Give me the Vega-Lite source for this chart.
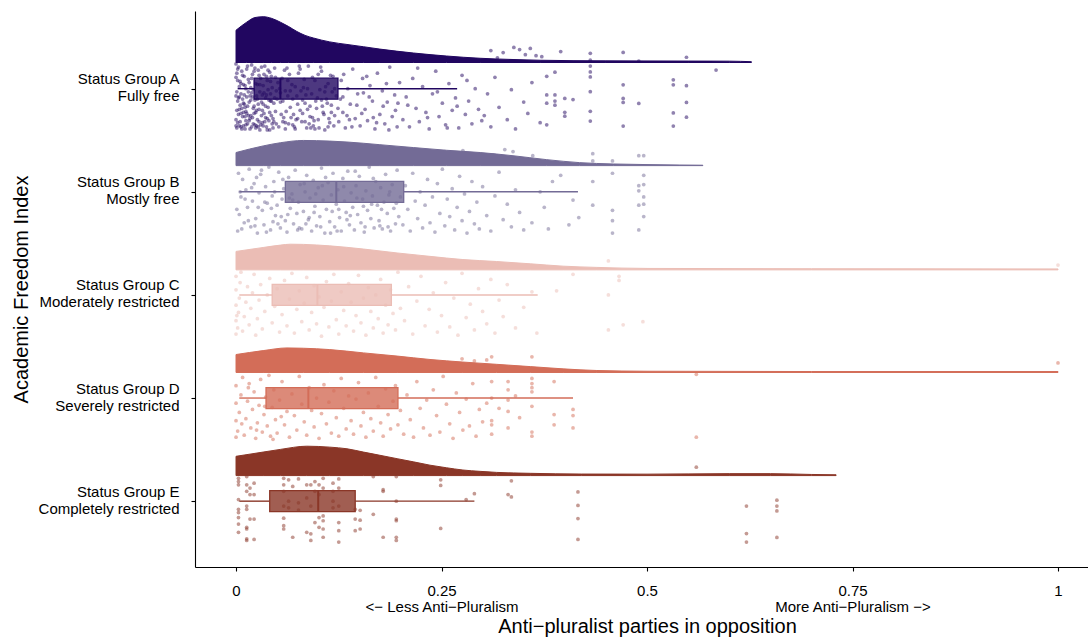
{
"$schema": "https://vega.github.io/schema/vega-lite/v6.json",
"width": 893, "height": 556,
"autosize": {"type": "none"},
"padding": {"left": 195, "top": 11, "right": 0, "bottom": 72},
"background": "white",
"config": {"view": {"stroke": null}, "font": "Liberation Sans",
 "axis": {"grid": false, "domainColor": "black", "domainWidth": 1.1, "tickColor": "black", "tickWidth": 1.1, "tickSize": 4, "labelColor": "black", "labelFont": "Liberation Sans", "labelFontSize": 15, "titleFont": "Liberation Sans", "titleFontSize": 20, "titleFontWeight": "normal", "titleColor": "black", "labelOverlap": false, "labelFlush": false}},
"datasets": {
"dens": [
{"g":"A","x":0,"top":5.567,"base":5.254},{"g":"A","x":0.013,"top":5.645,"base":5.254},{"g":"A","x":0.023,"top":5.69,"base":5.254},{"g":"A","x":0.033,"top":5.698,"base":5.254},{"g":"A","x":0.043,"top":5.683,"base":5.254},{"g":"A","x":0.054,"top":5.645,"base":5.254},{"g":"A","x":0.064,"top":5.603,"base":5.254},{"g":"A","x":0.074,"top":5.555,"base":5.254},{"g":"A","x":0.084,"top":5.517,"base":5.254},{"g":"A","x":0.094,"top":5.492,"base":5.254},{"g":"A","x":0.114,"top":5.454,"base":5.254},{"g":"A","x":0.135,"top":5.429,"base":5.254},{"g":"A","x":0.155,"top":5.407,"base":5.254},{"g":"A","x":0.175,"top":5.384,"base":5.254},{"g":"A","x":0.216,"top":5.346,"base":5.254},{"g":"A","x":0.256,"top":5.317,"base":5.254},{"g":"A","x":0.297,"top":5.295,"base":5.254},{"g":"A","x":0.337,"top":5.283,"base":5.254},{"g":"A","x":0.37,"top":5.276,"base":5.254},{"g":"A","x":0.45,"top":5.27,"base":5.254},{"g":"A","x":0.55,"top":5.268,"base":5.254},{"g":"A","x":0.6,"top":5.267,"base":5.254},{"g":"A","x":0.627,"top":5.262,"base":5.254},
{"g":"B","x":0,"top":4.381,"base":4.254},{"g":"B","x":0.033,"top":4.445,"base":4.254},{"g":"B","x":0.054,"top":4.476,"base":4.254},{"g":"B","x":0.082,"top":4.498,"base":4.254},{"g":"B","x":0.114,"top":4.492,"base":4.254},{"g":"B","x":0.135,"top":4.483,"base":4.254},{"g":"B","x":0.175,"top":4.457,"base":4.254},{"g":"B","x":0.216,"top":4.429,"base":4.254},{"g":"B","x":0.256,"top":4.403,"base":4.254},{"g":"B","x":0.297,"top":4.381,"base":4.254},{"g":"B","x":0.337,"top":4.35,"base":4.254},{"g":"B","x":0.378,"top":4.312,"base":4.254},{"g":"B","x":0.418,"top":4.283,"base":4.254},{"g":"B","x":0.459,"top":4.27,"base":4.254},{"g":"B","x":0.5,"top":4.264,"base":4.254},{"g":"B","x":0.54,"top":4.26,"base":4.254},{"g":"B","x":0.568,"top":4.258,"base":4.254},
{"g":"C","x":0,"top":3.422,"base":3.243},{"g":"C","x":0.033,"top":3.46,"base":3.243},{"g":"C","x":0.054,"top":3.483,"base":3.243},{"g":"C","x":0.066,"top":3.492,"base":3.243},{"g":"C","x":0.082,"top":3.49,"base":3.243},{"g":"C","x":0.114,"top":3.476,"base":3.243},{"g":"C","x":0.155,"top":3.445,"base":3.243},{"g":"C","x":0.196,"top":3.407,"base":3.243},{"g":"C","x":0.236,"top":3.374,"base":3.243},{"g":"C","x":0.276,"top":3.343,"base":3.243},{"g":"C","x":0.317,"top":3.324,"base":3.243},{"g":"C","x":0.358,"top":3.302,"base":3.243},{"g":"C","x":0.398,"top":3.279,"base":3.243},{"g":"C","x":0.439,"top":3.267,"base":3.243},{"g":"C","x":0.5,"top":3.257,"base":3.243},{"g":"C","x":0.7,"top":3.254,"base":3.243},{"g":"C","x":1.0,"top":3.252,"base":3.243},
{"g":"D","x":0,"top":2.422,"base":2.248},{"g":"D","x":0.033,"top":2.46,"base":2.248},{"g":"D","x":0.062,"top":2.486,"base":2.248},{"g":"D","x":0.082,"top":2.483,"base":2.248},{"g":"D","x":0.114,"top":2.47,"base":2.248},{"g":"D","x":0.155,"top":2.438,"base":2.248},{"g":"D","x":0.196,"top":2.407,"base":2.248},{"g":"D","x":0.236,"top":2.374,"base":2.248},{"g":"D","x":0.276,"top":2.349,"base":2.248},{"g":"D","x":0.317,"top":2.327,"base":2.248},{"g":"D","x":0.358,"top":2.305,"base":2.248},{"g":"D","x":0.398,"top":2.283,"base":2.248},{"g":"D","x":0.439,"top":2.267,"base":2.248},{"g":"D","x":0.5,"top":2.26,"base":2.248},{"g":"D","x":0.7,"top":2.257,"base":2.248},{"g":"D","x":1.0,"top":2.257,"base":2.248},
{"g":"E","x":0,"top":1.435,"base":1.248},{"g":"E","x":0.033,"top":1.476,"base":1.248},{"g":"E","x":0.054,"top":1.502,"base":1.248},{"g":"E","x":0.086,"top":1.533,"base":1.248},{"g":"E","x":0.114,"top":1.524,"base":1.248},{"g":"E","x":0.135,"top":1.508,"base":1.248},{"g":"E","x":0.155,"top":1.476,"base":1.248},{"g":"E","x":0.175,"top":1.445,"base":1.248},{"g":"E","x":0.196,"top":1.412,"base":1.248},{"g":"E","x":0.216,"top":1.381,"base":1.248},{"g":"E","x":0.236,"top":1.349,"base":1.248},{"g":"E","x":0.256,"top":1.324,"base":1.248},{"g":"E","x":0.276,"top":1.302,"base":1.248},{"g":"E","x":0.297,"top":1.289,"base":1.248},{"g":"E","x":0.317,"top":1.279,"base":1.248},{"g":"E","x":0.358,"top":1.27,"base":1.248},{"g":"E","x":0.42,"top":1.263,"base":1.248},{"g":"E","x":0.5,"top":1.262,"base":1.248},{"g":"E","x":0.6,"top":1.267,"base":1.248},{"g":"E","x":0.65,"top":1.267,"base":1.248},{"g":"E","x":0.7,"top":1.259,"base":1.248},{"g":"E","x":0.73,"top":1.256,"base":1.248}
],
"box": [
{"g":"A","gy":5,"lo":0.002,"q1":0.022,"med":0.054,"q3":0.124,"hi":0.269},
{"g":"B","gy":4,"lo":0.004,"q1":0.06,"med":0.122,"q3":0.204,"hi":0.416},
{"g":"C","gy":3,"lo":0.004,"q1":0.044,"med":0.099,"q3":0.189,"hi":0.367},
{"g":"D","gy":2,"lo":0.004,"q1":0.0365,"med":0.088,"q3":0.197,"hi":0.41},
{"g":"E","gy":1,"lo":0.004,"q1":0.041,"med":0.1,"q3":0.145,"hi":0.29}
],
"pts": [
{"g":"A","x":0.001,"y":4.62},{"g":"A","x":0.003,"y":4.75},{"g":"A","x":0.002,"y":4.88},{"g":"A","x":0.004,"y":5.02},{"g":"A","x":0.001,"y":5.15},{"g":"A","x":0.005,"y":4.68},{"g":"A","x":0.006,"y":4.95},{"g":"A","x":0.003,"y":5.21},{"g":"A","x":0.007,"y":4.81},{"g":"A","x":0.002,"y":5.08},
{"g":"A","x":0.009,"y":4.64},{"g":"A","x":0.008,"y":4.9},{"g":"A","x":0.01,"y":5.12},{"g":"A","x":0.011,"y":4.73},{"g":"A","x":0.012,"y":5.0},{"g":"A","x":0.01,"y":4.85},{"g":"A","x":0.013,"y":5.19},{"g":"A","x":0.014,"y":4.66},{"g":"A","x":0.015,"y":4.97},{"g":"A","x":0.012,"y":4.78},
{"g":"A","x":0.016,"y":5.06},{"g":"A","x":0.017,"y":4.61},{"g":"A","x":0.018,"y":4.89},{"g":"A","x":0.019,"y":5.23},{"g":"A","x":0.02,"y":4.72},{"g":"A","x":0.021,"y":4.99},{"g":"A","x":0.02,"y":5.14},{"g":"A","x":0.022,"y":4.83},{"g":"A","x":0.023,"y":4.65},{"g":"A","x":0.024,"y":5.05},
{"g":"A","x":0.025,"y":4.93},{"g":"A","x":0.026,"y":4.7},{"g":"A","x":0.027,"y":5.18},{"g":"A","x":0.028,"y":4.8},{"g":"A","x":0.029,"y":4.6},{"g":"A","x":0.03,"y":5.1},{"g":"A","x":0.031,"y":4.87},{"g":"A","x":0.032,"y":4.67},{"g":"A","x":0.033,"y":5.03},{"g":"A","x":0.034,"y":4.76},
{"g":"A","x":0.035,"y":5.22},{"g":"A","x":0.036,"y":4.91},{"g":"A","x":0.037,"y":4.63},{"g":"A","x":0.038,"y":5.08},{"g":"A","x":0.039,"y":4.82},{"g":"A","x":0.04,"y":4.69},{"g":"A","x":0.041,"y":5.16},{"g":"A","x":0.042,"y":4.95},{"g":"A","x":0.043,"y":4.74},{"g":"A","x":0.044,"y":5.01},
{"g":"A","x":0.045,"y":4.62},{"g":"A","x":0.046,"y":4.86},{"g":"A","x":0.047,"y":5.2},{"g":"A","x":0.048,"y":4.78},{"g":"A","x":0.049,"y":4.98},{"g":"A","x":0.0,"y":4.7},{"g":"A","x":0.0,"y":4.93},{"g":"A","x":0.0,"y":5.11},{"g":"A","x":0.0,"y":4.64},{"g":"A","x":0.0,"y":5.24},
{"g":"A","x":0.005,"y":4.84},{"g":"A","x":0.007,"y":5.17},{"g":"A","x":0.009,"y":4.77},{"g":"A","x":0.011,"y":4.61},{"g":"A","x":0.013,"y":4.92},{"g":"A","x":0.015,"y":5.09},{"g":"A","x":0.017,"y":4.71},{"g":"A","x":0.019,"y":4.96},{"g":"A","x":0.021,"y":4.66},{"g":"A","x":0.023,"y":5.2},
{"g":"A","x":0.025,"y":4.79},{"g":"A","x":0.027,"y":4.63},{"g":"A","x":0.029,"y":5.04},{"g":"A","x":0.031,"y":4.74},{"g":"A","x":0.033,"y":4.85},{"g":"A","x":0.035,"y":4.68},{"g":"A","x":0.037,"y":5.12},{"g":"A","x":0.039,"y":4.99},{"g":"A","x":0.041,"y":4.6},{"g":"A","x":0.043,"y":4.88},
{"g":"A","x":0.002,"y":4.67},{"g":"A","x":0.004,"y":4.8},{"g":"A","x":0.006,"y":5.05},{"g":"A","x":0.008,"y":4.73},{"g":"A","x":0.01,"y":4.94},{"g":"A","x":0.014,"y":4.83},{"g":"A","x":0.018,"y":5.01},{"g":"A","x":0.022,"y":4.76},{"g":"A","x":0.026,"y":4.9},{"g":"A","x":0.03,"y":4.65},
{"g":"A","x":0.034,"y":4.96},{"g":"A","x":0.038,"y":4.71},{"g":"A","x":0.042,"y":5.07},{"g":"A","x":0.046,"y":4.68},{"g":"A","x":0.05,"y":4.9},
{"g":"A","x":0.001,"y":4.97},{"g":"A","x":0.004,"y":4.64},{"g":"A","x":0.006,"y":4.76},{"g":"A","x":0.009,"y":5.04},{"g":"A","x":0.012,"y":4.69},{"g":"A","x":0.016,"y":4.87},{"g":"A","x":0.019,"y":4.63},{"g":"A","x":0.024,"y":4.77},{"g":"A","x":0.028,"y":5.13},{"g":"A","x":0.032,"y":4.94},
{"g":"A","x":0.036,"y":4.72},{"g":"A","x":0.04,"y":4.89},{"g":"A","x":0.044,"y":4.66},{"g":"A","x":0.048,"y":5.11},{"g":"A","x":0.003,"y":4.91},{"g":"A","x":0.007,"y":4.61},{"g":"A","x":0.011,"y":4.82},{"g":"A","x":0.015,"y":4.74},{"g":"A","x":0.02,"y":4.92},{"g":"A","x":0.025,"y":4.64},
{"g":"A","x":0.001,"y":4.79},{"g":"A","x":0.002,"y":5.19},{"g":"A","x":0.004,"y":4.92},{"g":"A","x":0.005,"y":5.07},{"g":"A","x":0.006,"y":4.63},{"g":"A","x":0.008,"y":5.13},{"g":"A","x":0.009,"y":4.86},{"g":"A","x":0.011,"y":5.03},{"g":"A","x":0.012,"y":4.65},{"g":"A","x":0.013,"y":4.76},
{"g":"A","x":0.014,"y":5.22},{"g":"A","x":0.016,"y":4.69},{"g":"A","x":0.017,"y":4.93},{"g":"A","x":0.018,"y":4.74},{"g":"A","x":0.019,"y":5.1},{"g":"A","x":0.021,"y":4.81},{"g":"A","x":0.022,"y":5.17},{"g":"A","x":0.023,"y":4.89},{"g":"A","x":0.024,"y":4.62},{"g":"A","x":0.026,"y":5.04},
{"g":"A","x":0.027,"y":4.85},{"g":"A","x":0.028,"y":4.68},{"g":"A","x":0.029,"y":4.97},{"g":"A","x":0.031,"y":5.21},{"g":"A","x":0.032,"y":4.79},{"g":"A","x":0.033,"y":4.64},{"g":"A","x":0.034,"y":5.14},{"g":"A","x":0.036,"y":4.83},{"g":"A","x":0.037,"y":4.94},{"g":"A","x":0.038,"y":4.6},
{"g":"A","x":0.039,"y":5.18},{"g":"A","x":0.041,"y":4.77},{"g":"A","x":0.042,"y":4.88},{"g":"A","x":0.043,"y":5.12},{"g":"A","x":0.045,"y":4.71},{"g":"A","x":0.047,"y":4.91},{"g":"A","x":0.049,"y":4.66},{"g":"A","x":0.051,"y":5.06},{"g":"A","x":0.054,"y":4.96},{"g":"A","x":0.057,"y":4.88},
{"g":"A","x":0.06,"y":4.67},{"g":"A","x":0.063,"y":5.08},{"g":"A","x":0.066,"y":4.98},{"g":"A","x":0.069,"y":4.65},{"g":"A","x":0.072,"y":5.02},{"g":"A","x":0.075,"y":4.71},{"g":"A","x":0.078,"y":5.19},{"g":"A","x":0.081,"y":4.89},{"g":"A","x":0.084,"y":4.68},{"g":"A","x":0.087,"y":5.0},
{"g":"A","x":0.09,"y":4.83},{"g":"A","x":0.093,"y":4.72},{"g":"A","x":0.096,"y":4.61},{"g":"A","x":0.1,"y":5.14},{"g":"A","x":0.104,"y":4.89},{"g":"A","x":0.108,"y":4.97},{"g":"A","x":0.112,"y":4.63},{"g":"A","x":0.116,"y":4.77},{"g":"A","x":0.12,"y":5.0},{"g":"A","x":0.13,"y":4.92},
{"g":"A","x":0.052,"y":4.63},{"g":"A","x":0.054,"y":4.87},{"g":"A","x":0.056,"y":5.1},{"g":"A","x":0.058,"y":4.72},{"g":"A","x":0.06,"y":4.98},{"g":"A","x":0.062,"y":5.2},{"g":"A","x":0.064,"y":4.66},{"g":"A","x":0.066,"y":4.82},{"g":"A","x":0.068,"y":5.04},{"g":"A","x":0.07,"y":4.75},
{"g":"A","x":0.072,"y":4.61},{"g":"A","x":0.074,"y":4.93},{"g":"A","x":0.076,"y":5.15},{"g":"A","x":0.078,"y":4.79},{"g":"A","x":0.08,"y":4.68},{"g":"A","x":0.082,"y":5.01},{"g":"A","x":0.084,"y":4.86},{"g":"A","x":0.086,"y":4.62},{"g":"A","x":0.088,"y":5.22},{"g":"A","x":0.09,"y":4.73},
{"g":"A","x":0.092,"y":4.95},{"g":"A","x":0.094,"y":4.64},{"g":"A","x":0.096,"y":5.08},{"g":"A","x":0.098,"y":4.81},{"g":"A","x":0.1,"y":4.7},{"g":"A","x":0.102,"y":4.99},{"g":"A","x":0.104,"y":5.17},{"g":"A","x":0.106,"y":4.77},{"g":"A","x":0.108,"y":4.6},{"g":"A","x":0.11,"y":4.9},
{"g":"A","x":0.112,"y":5.05},{"g":"A","x":0.114,"y":4.67},{"g":"A","x":0.116,"y":4.84},{"g":"A","x":0.118,"y":5.12},{"g":"A","x":0.12,"y":4.74},{"g":"A","x":0.053,"y":5.0},{"g":"A","x":0.057,"y":4.68},{"g":"A","x":0.061,"y":4.78},{"g":"A","x":0.065,"y":5.14},{"g":"A","x":0.069,"y":4.9},
{"g":"A","x":0.073,"y":4.7},{"g":"A","x":0.077,"y":5.22},{"g":"A","x":0.081,"y":4.76},{"g":"A","x":0.085,"y":4.94},{"g":"A","x":0.089,"y":4.66},{"g":"A","x":0.093,"y":5.11},{"g":"A","x":0.097,"y":4.88},{"g":"A","x":0.101,"y":4.62},{"g":"A","x":0.105,"y":4.83},{"g":"A","x":0.109,"y":5.02},
{"g":"A","x":0.113,"y":4.71},{"g":"A","x":0.117,"y":4.97},{"g":"A","x":0.055,"y":4.75},{"g":"A","x":0.063,"y":4.93},{"g":"A","x":0.071,"y":4.63},{"g":"A","x":0.079,"y":4.98},{"g":"A","x":0.087,"y":4.8},{"g":"A","x":0.095,"y":4.69},{"g":"A","x":0.103,"y":5.21},{"g":"A","x":0.111,"y":4.86},
{"g":"A","x":0.119,"y":4.64},{"g":"A","x":0.059,"y":5.18},{"g":"A","x":0.067,"y":4.72},{"g":"A","x":0.075,"y":4.85},{"g":"A","x":0.083,"y":5.09},{"g":"A","x":0.091,"y":4.62},{"g":"A","x":0.099,"y":4.91},{"g":"A","x":0.107,"y":4.75},{"g":"A","x":0.115,"y":5.13},{"g":"A","x":0.06,"y":4.61},
{"g":"A","x":0.122,"y":4.93},{"g":"A","x":0.125,"y":4.68},{"g":"A","x":0.128,"y":5.08},{"g":"A","x":0.13,"y":4.77},{"g":"A","x":0.133,"y":4.62},{"g":"A","x":0.136,"y":5.0},{"g":"A","x":0.139,"y":4.85},{"g":"A","x":0.142,"y":5.19},{"g":"A","x":0.145,"y":4.71},{"g":"A","x":0.148,"y":4.95},
{"g":"A","x":0.151,"y":4.64},{"g":"A","x":0.154,"y":5.1},{"g":"A","x":0.157,"y":4.8},{"g":"A","x":0.16,"y":4.69},{"g":"A","x":0.163,"y":5.03},{"g":"A","x":0.166,"y":4.88},{"g":"A","x":0.169,"y":4.61},{"g":"A","x":0.172,"y":5.15},{"g":"A","x":0.175,"y":4.75},{"g":"A","x":0.178,"y":4.98},
{"g":"A","x":0.181,"y":4.66},{"g":"A","x":0.184,"y":4.87},{"g":"A","x":0.187,"y":5.21},{"g":"A","x":0.19,"y":4.73},{"g":"A","x":0.193,"y":4.94},{"g":"A","x":0.196,"y":4.63},{"g":"A","x":0.199,"y":5.06},{"g":"A","x":0.124,"y":4.81},{"g":"A","x":0.131,"y":5.14},{"g":"A","x":0.138,"y":4.7},
{"g":"A","x":0.147,"y":4.84},{"g":"A","x":0.153,"y":4.76},{"g":"A","x":0.162,"y":4.92},{"g":"A","x":0.171,"y":4.67},{"g":"A","x":0.179,"y":4.83},{"g":"A","x":0.186,"y":4.6},{"g":"A","x":0.194,"y":4.79},{"g":"A","x":0.127,"y":4.9},{"g":"A","x":0.141,"y":4.63},{"g":"A","x":0.155,"y":4.96},
{"g":"A","x":0.167,"y":4.72},{"g":"A","x":0.183,"y":5.05},{"g":"A","x":0.197,"y":4.86},{"g":"A","x":0.135,"y":4.74},{"g":"A","x":0.159,"y":5.12},
{"g":"A","x":0.203,"y":4.7},{"g":"A","x":0.207,"y":4.92},{"g":"A","x":0.211,"y":4.63},{"g":"A","x":0.215,"y":5.1},{"g":"A","x":0.219,"y":4.81},{"g":"A","x":0.223,"y":4.68},{"g":"A","x":0.227,"y":5.02},{"g":"A","x":0.231,"y":4.77},{"g":"A","x":0.235,"y":4.61},{"g":"A","x":0.239,"y":4.95},
{"g":"A","x":0.243,"y":5.17},{"g":"A","x":0.247,"y":4.73},{"g":"A","x":0.251,"y":4.86},{"g":"A","x":0.255,"y":4.65},{"g":"A","x":0.259,"y":5.05},{"g":"A","x":0.263,"y":4.79},{"g":"A","x":0.267,"y":4.91},{"g":"A","x":0.271,"y":4.62},{"g":"A","x":0.275,"y":5.13},{"g":"A","x":0.279,"y":4.75},
{"g":"A","x":0.283,"y":4.88},{"g":"A","x":0.287,"y":4.66},{"g":"A","x":0.291,"y":5.0},{"g":"A","x":0.295,"y":4.8},{"g":"A","x":0.299,"y":4.69},{"g":"A","x":0.209,"y":4.84},{"g":"A","x":0.221,"y":5.2},{"g":"A","x":0.233,"y":4.72},{"g":"A","x":0.245,"y":4.97},{"g":"A","x":0.257,"y":4.62},
{"g":"A","x":0.269,"y":4.83},{"g":"A","x":0.281,"y":5.08},
{"g":"A","x":0.302,"y":4.74},{"g":"A","x":0.306,"y":4.95},{"g":"A","x":0.31,"y":4.63},{"g":"A","x":0.315,"y":5.11},{"g":"A","x":0.32,"y":4.82},{"g":"A","x":0.325,"y":5.35},{"g":"A","x":0.33,"y":4.7},{"g":"A","x":0.335,"y":4.99},{"g":"A","x":0.34,"y":4.61},{"g":"A","x":0.345,"y":5.38},
{"g":"A","x":0.35,"y":4.87},{"g":"A","x":0.355,"y":4.76},{"g":"A","x":0.36,"y":5.06},{"g":"A","x":0.365,"y":5.32},{"g":"A","x":0.37,"y":4.67},{"g":"A","x":0.378,"y":5.12},{"g":"A","x":0.378,"y":4.94},{"g":"A","x":0.378,"y":4.86},{"g":"A","x":0.378,"y":4.65},{"g":"A","x":0.388,"y":5.16},
{"g":"A","x":0.388,"y":4.94},{"g":"A","x":0.388,"y":4.88},{"g":"A","x":0.388,"y":4.84},{"g":"A","x":0.395,"y":5.36},{"g":"A","x":0.338,"y":5.4},{"g":"A","x":0.352,"y":5.33},{"g":"A","x":0.358,"y":5.39},{"g":"A","x":0.372,"y":5.31},{"g":"A","x":0.31,"y":5.37},{"g":"A","x":0.318,"y":5.3},
{"g":"A","x":0.4,"y":4.905},{"g":"A","x":0.4,"y":4.771},{"g":"A","x":0.4,"y":4.733},{"g":"A","x":0.41,"y":4.895},{"g":"A","x":0.431,"y":5.343},{"g":"A","x":0.431,"y":5.276},{"g":"A","x":0.431,"y":5.219},{"g":"A","x":0.431,"y":5.162},{"g":"A","x":0.431,"y":5.114},{"g":"A","x":0.431,"y":4.971},
{"g":"A","x":0.431,"y":4.781},{"g":"A","x":0.431,"y":4.686},{"g":"A","x":0.471,"y":5.352},{"g":"A","x":0.471,"y":5.038},{"g":"A","x":0.471,"y":4.905},{"g":"A","x":0.471,"y":4.867},{"g":"A","x":0.471,"y":4.638},{"g":"A","x":0.49,"y":5.267},{"g":"A","x":0.49,"y":4.857},{"g":"A","x":0.532,"y":5.086},
{"g":"A","x":0.532,"y":5.038},{"g":"A","x":0.532,"y":4.765},{"g":"A","x":0.532,"y":4.638},{"g":"A","x":0.548,"y":5.305},{"g":"A","x":0.548,"y":5.029},{"g":"A","x":0.548,"y":4.867},{"g":"A","x":0.548,"y":4.724},{"g":"A","x":0.584,"y":5.181},
{"g":"B","x":0.002,"y":3.62},{"g":"B","x":0.004,"y":3.78},{"g":"B","x":0.006,"y":3.95},{"g":"B","x":0.008,"y":4.12},{"g":"B","x":0.01,"y":3.7},{"g":"B","x":0.012,"y":4.02},{"g":"B","x":0.014,"y":3.85},{"g":"B","x":0.016,"y":4.22},{"g":"B","x":0.018,"y":3.66},{"g":"B","x":0.02,"y":3.91},
{"g":"B","x":0.022,"y":4.08},{"g":"B","x":0.024,"y":3.74},{"g":"B","x":0.026,"y":3.6},{"g":"B","x":0.028,"y":3.99},{"g":"B","x":0.03,"y":4.17},{"g":"B","x":0.032,"y":3.82},{"g":"B","x":0.034,"y":3.68},{"g":"B","x":0.036,"y":4.05},{"g":"B","x":0.038,"y":3.89},{"g":"B","x":0.04,"y":4.24},
{"g":"B","x":0.042,"y":3.63},{"g":"B","x":0.044,"y":3.96},{"g":"B","x":0.046,"y":4.1},{"g":"B","x":0.048,"y":3.77},{"g":"B","x":0.05,"y":3.87},{"g":"B","x":0.052,"y":4.19},{"g":"B","x":0.054,"y":3.65},{"g":"B","x":0.056,"y":3.93},{"g":"B","x":0.058,"y":4.03},{"g":"B","x":0.06,"y":3.72},
{"g":"B","x":0.062,"y":3.61},{"g":"B","x":0.064,"y":4.14},{"g":"B","x":0.066,"y":3.84},{"g":"B","x":0.068,"y":3.98},{"g":"B","x":0.07,"y":3.69},{"g":"B","x":0.072,"y":4.21},{"g":"B","x":0.074,"y":3.79},{"g":"B","x":0.076,"y":3.9},{"g":"B","x":0.078,"y":4.07},{"g":"B","x":0.08,"y":3.64},
{"g":"B","x":0.082,"y":3.81},{"g":"B","x":0.084,"y":4.0},{"g":"B","x":0.086,"y":4.16},{"g":"B","x":0.088,"y":3.73},{"g":"B","x":0.09,"y":3.94},{"g":"B","x":0.092,"y":3.62},{"g":"B","x":0.094,"y":4.11},{"g":"B","x":0.096,"y":3.86},{"g":"B","x":0.098,"y":3.67},{"g":"B","x":0.1,"y":4.04},
{"g":"B","x":0.102,"y":3.76},{"g":"B","x":0.104,"y":4.23},{"g":"B","x":0.106,"y":3.92},{"g":"B","x":0.108,"y":3.6},{"g":"B","x":0.11,"y":3.83},{"g":"B","x":0.112,"y":4.09},{"g":"B","x":0.114,"y":3.71},{"g":"B","x":0.116,"y":3.97},{"g":"B","x":0.118,"y":4.18},{"g":"B","x":0.12,"y":3.66},
{"g":"B","x":0.122,"y":3.88},{"g":"B","x":0.124,"y":4.02},{"g":"B","x":0.126,"y":3.75},{"g":"B","x":0.128,"y":3.62},{"g":"B","x":0.13,"y":4.13},{"g":"B","x":0.132,"y":3.91},{"g":"B","x":0.134,"y":3.8},{"g":"B","x":0.136,"y":4.2},{"g":"B","x":0.138,"y":3.68},{"g":"B","x":0.14,"y":3.99},
{"g":"B","x":0.142,"y":3.85},{"g":"B","x":0.144,"y":3.63},{"g":"B","x":0.146,"y":4.06},{"g":"B","x":0.148,"y":3.78},{"g":"B","x":0.15,"y":4.15},{"g":"B","x":0.152,"y":3.7},{"g":"B","x":0.154,"y":3.93},{"g":"B","x":0.156,"y":3.61},{"g":"B","x":0.158,"y":4.01},{"g":"B","x":0.16,"y":3.82},
{"g":"B","x":0.162,"y":4.24},{"g":"B","x":0.164,"y":3.74},{"g":"B","x":0.166,"y":3.96},{"g":"B","x":0.168,"y":3.65},{"g":"B","x":0.17,"y":4.1},{"g":"B","x":0.172,"y":3.87},{"g":"B","x":0.174,"y":3.72},{"g":"B","x":0.176,"y":4.04},{"g":"B","x":0.178,"y":3.64},{"g":"B","x":0.18,"y":3.9},
{"g":"B","x":0.182,"y":4.17},{"g":"B","x":0.184,"y":3.79},{"g":"B","x":0.186,"y":3.97},{"g":"B","x":0.188,"y":3.62},{"g":"B","x":0.19,"y":4.07},{"g":"B","x":0.192,"y":3.84},{"g":"B","x":0.194,"y":3.69},{"g":"B","x":0.196,"y":4.21},{"g":"B","x":0.198,"y":3.76},{"g":"B","x":0.2,"y":3.95},
{"g":"B","x":0.015,"y":3.72},{"g":"B","x":0.035,"y":3.9},{"g":"B","x":0.055,"y":3.76},{"g":"B","x":0.075,"y":3.63},{"g":"B","x":0.095,"y":3.8},{"g":"B","x":0.115,"y":3.6},{"g":"B","x":0.135,"y":3.73},{"g":"B","x":0.155,"y":3.86},{"g":"B","x":0.175,"y":3.67},{"g":"B","x":0.195,"y":3.89},
{"g":"B","x":0.005,"y":4.0},{"g":"B","x":0.025,"y":4.14},{"g":"B","x":0.045,"y":3.71},{"g":"B","x":0.065,"y":3.94},{"g":"B","x":0.085,"y":3.69},{"g":"B","x":0.105,"y":4.06},{"g":"B","x":0.125,"y":3.83},{"g":"B","x":0.145,"y":4.2},{"g":"B","x":0.165,"y":3.88},{"g":"B","x":0.185,"y":3.66},
{"g":"B","x":0.001,"y":3.83},{"g":"B","x":0.003,"y":4.18},{"g":"B","x":0.007,"y":3.64},{"g":"B","x":0.011,"y":3.93},{"g":"B","x":0.019,"y":4.04},{"g":"B","x":0.023,"y":3.67},{"g":"B","x":0.027,"y":3.85},{"g":"B","x":0.031,"y":4.21},{"g":"B","x":0.037,"y":3.61},{"g":"B","x":0.043,"y":3.84},
{"g":"B","x":0.047,"y":4.0},{"g":"B","x":0.051,"y":3.69},{"g":"B","x":0.057,"y":4.12},{"g":"B","x":0.063,"y":3.78},{"g":"B","x":0.069,"y":3.92},{"g":"B","x":0.077,"y":3.65},{"g":"B","x":0.083,"y":4.08},{"g":"B","x":0.089,"y":3.75},{"g":"B","x":0.097,"y":3.98},{"g":"B","x":0.103,"y":3.66},
{"g":"B","x":0.109,"y":4.14},{"g":"B","x":0.117,"y":3.81},{"g":"B","x":0.123,"y":3.62},{"g":"B","x":0.131,"y":4.05},{"g":"B","x":0.139,"y":3.77},{"g":"B","x":0.147,"y":3.94},{"g":"B","x":0.157,"y":3.66},{"g":"B","x":0.167,"y":4.13},{"g":"B","x":0.177,"y":3.83},{"g":"B","x":0.187,"y":4.0},
{"g":"B","x":0.203,"y":3.68},{"g":"B","x":0.206,"y":4.06},{"g":"B","x":0.209,"y":3.83},{"g":"B","x":0.212,"y":3.62},{"g":"B","x":0.215,"y":4.18},{"g":"B","x":0.218,"y":3.91},{"g":"B","x":0.221,"y":3.74},{"g":"B","x":0.224,"y":4.0},{"g":"B","x":0.227,"y":3.65},{"g":"B","x":0.23,"y":3.87},
{"g":"B","x":0.233,"y":4.12},{"g":"B","x":0.236,"y":3.7},{"g":"B","x":0.239,"y":3.95},{"g":"B","x":0.242,"y":3.61},{"g":"B","x":0.245,"y":4.08},{"g":"B","x":0.248,"y":3.79},{"g":"B","x":0.251,"y":4.22},{"g":"B","x":0.254,"y":3.67},{"g":"B","x":0.257,"y":3.93},{"g":"B","x":0.26,"y":3.76},
{"g":"B","x":0.263,"y":4.03},{"g":"B","x":0.266,"y":3.63},{"g":"B","x":0.269,"y":3.85},{"g":"B","x":0.272,"y":4.15},{"g":"B","x":0.275,"y":3.72},{"g":"B","x":0.278,"y":3.98},{"g":"B","x":0.281,"y":3.6},{"g":"B","x":0.284,"y":3.81},{"g":"B","x":0.287,"y":4.1},{"g":"B","x":0.29,"y":3.69},
{"g":"B","x":0.293,"y":3.9},{"g":"B","x":0.296,"y":3.64},{"g":"B","x":0.3,"y":4.05},{"g":"B","x":0.305,"y":3.77},{"g":"B","x":0.31,"y":3.62},{"g":"B","x":0.315,"y":3.96},{"g":"B","x":0.32,"y":4.19},{"g":"B","x":0.325,"y":3.73},{"g":"B","x":0.33,"y":3.88},{"g":"B","x":0.335,"y":3.66},
{"g":"B","x":0.34,"y":4.02},{"g":"B","x":0.345,"y":3.8},{"g":"B","x":0.35,"y":3.63},{"g":"B","x":0.254,"y":4.39},{"g":"B","x":0.276,"y":4.4},{"g":"B","x":0.293,"y":4.36},{"g":"B","x":0.313,"y":4.355},{"g":"B","x":0.327,"y":4.41},{"g":"B","x":0.337,"y":4.39},{"g":"B","x":0.361,"y":4.35},
{"g":"B","x":0.36,"y":3.7},{"g":"B","x":0.37,"y":4.0},{"g":"B","x":0.375,"y":3.85},{"g":"B","x":0.38,"y":3.64},{"g":"B","x":0.385,"y":4.1},{"g":"B","x":0.395,"y":4.16},{"g":"B","x":0.417,"y":3.75},{"g":"B","x":0.434,"y":4.37},{"g":"B","x":0.434,"y":4.3},{"g":"B","x":0.434,"y":4.1},
{"g":"B","x":0.434,"y":3.87},{"g":"B","x":0.458,"y":4.3},{"g":"B","x":0.458,"y":4.18},{"g":"B","x":0.458,"y":3.82},{"g":"B","x":0.458,"y":3.72},{"g":"B","x":0.458,"y":3.6},{"g":"B","x":0.49,"y":4.35},{"g":"B","x":0.49,"y":4.06},{"g":"B","x":0.49,"y":4.01},{"g":"B","x":0.49,"y":3.87},
{"g":"B","x":0.49,"y":3.63},{"g":"B","x":0.496,"y":4.35},{"g":"B","x":0.496,"y":4.16},{"g":"B","x":0.496,"y":4.07},{"g":"B","x":0.496,"y":3.95},{"g":"B","x":0.496,"y":3.88},{"g":"B","x":0.496,"y":3.76},{"g":"B","x":0.405,"y":3.68},{"g":"B","x":0.41,"y":3.92},
{"g":"C","x":0.0,"y":2.62},{"g":"C","x":0.0,"y":2.75},{"g":"C","x":0.0,"y":2.9},{"g":"C","x":0.0,"y":3.05},{"g":"C","x":0.0,"y":3.18},{"g":"C","x":0.002,"y":2.68},{"g":"C","x":0.003,"y":2.83},{"g":"C","x":0.004,"y":2.97},{"g":"C","x":0.005,"y":3.12},{"g":"C","x":0.006,"y":3.22},
{"g":"C","x":0.008,"y":2.65},{"g":"C","x":0.01,"y":2.79},{"g":"C","x":0.012,"y":2.93},{"g":"C","x":0.014,"y":3.08},{"g":"C","x":0.016,"y":2.71},{"g":"C","x":0.018,"y":2.87},{"g":"C","x":0.02,"y":3.02},{"g":"C","x":0.022,"y":3.2},{"g":"C","x":0.024,"y":2.61},{"g":"C","x":0.026,"y":2.77},
{"g":"C","x":0.028,"y":2.95},{"g":"C","x":0.03,"y":3.1},{"g":"C","x":0.032,"y":2.67},{"g":"C","x":0.035,"y":2.84},{"g":"C","x":0.038,"y":3.0},{"g":"C","x":0.041,"y":3.16},{"g":"C","x":0.044,"y":2.73},{"g":"C","x":0.047,"y":2.89},{"g":"C","x":0.05,"y":3.06},{"g":"C","x":0.001,"y":2.8},
{"g":"C","x":0.053,"y":2.64},{"g":"C","x":0.056,"y":2.81},{"g":"C","x":0.059,"y":3.14},{"g":"C","x":0.062,"y":2.7},{"g":"C","x":0.065,"y":2.96},{"g":"C","x":0.068,"y":3.21},{"g":"C","x":0.071,"y":2.63},{"g":"C","x":0.074,"y":2.86},{"g":"C","x":0.077,"y":3.04},{"g":"C","x":0.08,"y":2.74},
{"g":"C","x":0.083,"y":2.92},{"g":"C","x":0.086,"y":3.17},{"g":"C","x":0.089,"y":2.66},{"g":"C","x":0.092,"y":2.83},{"g":"C","x":0.095,"y":3.09},{"g":"C","x":0.098,"y":2.72},{"g":"C","x":0.101,"y":2.98},{"g":"C","x":0.104,"y":2.6},{"g":"C","x":0.107,"y":2.88},{"g":"C","x":0.11,"y":3.13},
{"g":"C","x":0.113,"y":2.69},{"g":"C","x":0.116,"y":2.94},{"g":"C","x":0.119,"y":3.2},{"g":"C","x":0.122,"y":2.76},{"g":"C","x":0.125,"y":2.62},{"g":"C","x":0.128,"y":3.03},{"g":"C","x":0.131,"y":2.85},{"g":"C","x":0.134,"y":2.7},{"g":"C","x":0.137,"y":3.11},{"g":"C","x":0.14,"y":2.93},
{"g":"C","x":0.143,"y":2.65},{"g":"C","x":0.146,"y":2.8},{"g":"C","x":0.149,"y":3.19},{"g":"C","x":0.152,"y":2.73},{"g":"C","x":0.155,"y":2.97},{"g":"C","x":0.158,"y":2.61},{"g":"C","x":0.161,"y":3.07},{"g":"C","x":0.164,"y":2.84},{"g":"C","x":0.167,"y":2.68},{"g":"C","x":0.17,"y":3.0},
{"g":"C","x":0.173,"y":2.77},{"g":"C","x":0.176,"y":3.15},{"g":"C","x":0.179,"y":2.63},{"g":"C","x":0.182,"y":2.9},{"g":"C","x":0.185,"y":2.71},{"g":"C","x":0.188,"y":3.05},{"g":"C","x":0.191,"y":2.82},{"g":"C","x":0.194,"y":2.66},{"g":"C","x":0.197,"y":3.22},{"g":"C","x":0.2,"y":2.87},
{"g":"C","x":0.205,"y":2.75},{"g":"C","x":0.21,"y":3.08},{"g":"C","x":0.215,"y":2.62},{"g":"C","x":0.22,"y":2.94},{"g":"C","x":0.225,"y":3.18},{"g":"C","x":0.23,"y":2.7},{"g":"C","x":0.235,"y":2.86},{"g":"C","x":0.24,"y":3.02},{"g":"C","x":0.245,"y":2.64},{"g":"C","x":0.25,"y":2.8},
{"g":"C","x":0.255,"y":3.12},{"g":"C","x":0.26,"y":2.69},{"g":"C","x":0.265,"y":2.97},{"g":"C","x":0.27,"y":2.61},{"g":"C","x":0.275,"y":3.21},{"g":"C","x":0.28,"y":2.78},{"g":"C","x":0.285,"y":2.91},{"g":"C","x":0.29,"y":2.66},{"g":"C","x":0.295,"y":3.06},{"g":"C","x":0.3,"y":2.84},
{"g":"C","x":0.305,"y":2.72},{"g":"C","x":0.31,"y":3.15},{"g":"C","x":0.315,"y":2.63},{"g":"C","x":0.32,"y":2.95},{"g":"C","x":0.325,"y":2.79},{"g":"C","x":0.33,"y":3.1},{"g":"C","x":0.34,"y":2.68},{"g":"C","x":0.35,"y":2.88},{"g":"C","x":0.36,"y":3.03},{"g":"C","x":0.366,"y":2.63},
{"g":"C","x":0.41,"y":3.2},{"g":"C","x":0.453,"y":3.33},{"g":"C","x":0.453,"y":3.0},{"g":"C","x":0.453,"y":2.66},{"g":"C","x":0.466,"y":3.18},{"g":"C","x":0.466,"y":3.14},{"g":"C","x":0.471,"y":2.71},{"g":"C","x":0.495,"y":2.74},{"g":"C","x":1.0,"y":3.29},{"g":"C","x":0.39,"y":3.04},
{"g":"D","x":0.0,"y":1.62},{"g":"D","x":0.0,"y":1.78},{"g":"D","x":0.0,"y":1.95},{"g":"D","x":0.0,"y":2.12},{"g":"D","x":0.002,"y":1.68},{"g":"D","x":0.004,"y":1.86},{"g":"D","x":0.006,"y":2.03},{"g":"D","x":0.008,"y":2.2},{"g":"D","x":0.01,"y":1.64},{"g":"D","x":0.012,"y":1.8},
{"g":"D","x":0.014,"y":1.97},{"g":"D","x":0.016,"y":2.14},{"g":"D","x":0.018,"y":1.71},{"g":"D","x":0.02,"y":1.89},{"g":"D","x":0.022,"y":2.06},{"g":"D","x":0.024,"y":1.61},{"g":"D","x":0.026,"y":1.76},{"g":"D","x":0.028,"y":1.93},{"g":"D","x":0.03,"y":2.18},{"g":"D","x":0.032,"y":1.67},
{"g":"D","x":0.034,"y":1.84},{"g":"D","x":0.036,"y":2.01},{"g":"D","x":0.038,"y":1.73},{"g":"D","x":0.04,"y":2.22},{"g":"D","x":0.042,"y":1.63},{"g":"D","x":0.044,"y":1.91},{"g":"D","x":0.046,"y":2.08},{"g":"D","x":0.048,"y":1.79},{"g":"D","x":0.05,"y":1.66},{"g":"D","x":0.053,"y":1.98},
{"g":"D","x":0.056,"y":2.16},{"g":"D","x":0.059,"y":1.74},{"g":"D","x":0.062,"y":1.87},{"g":"D","x":0.065,"y":1.62},{"g":"D","x":0.068,"y":2.04},{"g":"D","x":0.071,"y":1.83},{"g":"D","x":0.074,"y":1.69},{"g":"D","x":0.077,"y":2.21},{"g":"D","x":0.08,"y":1.94},{"g":"D","x":0.083,"y":1.77},
{"g":"D","x":0.086,"y":1.64},{"g":"D","x":0.089,"y":2.1},{"g":"D","x":0.092,"y":1.88},{"g":"D","x":0.095,"y":1.72},{"g":"D","x":0.098,"y":2.0},{"g":"D","x":0.101,"y":1.61},{"g":"D","x":0.104,"y":1.85},{"g":"D","x":0.107,"y":2.13},{"g":"D","x":0.11,"y":1.75},{"g":"D","x":0.113,"y":1.96},
{"g":"D","x":0.116,"y":1.66},{"g":"D","x":0.119,"y":2.07},{"g":"D","x":0.122,"y":1.81},{"g":"D","x":0.125,"y":1.63},{"g":"D","x":0.128,"y":2.19},{"g":"D","x":0.131,"y":1.9},{"g":"D","x":0.134,"y":1.7},{"g":"D","x":0.137,"y":2.02},{"g":"D","x":0.14,"y":1.78},{"g":"D","x":0.143,"y":1.65},
{"g":"D","x":0.146,"y":1.99},{"g":"D","x":0.149,"y":2.15},{"g":"D","x":0.152,"y":1.73},{"g":"D","x":0.155,"y":1.86},{"g":"D","x":0.158,"y":1.62},{"g":"D","x":0.161,"y":2.05},{"g":"D","x":0.164,"y":1.8},{"g":"D","x":0.167,"y":1.68},{"g":"D","x":0.17,"y":2.2},{"g":"D","x":0.173,"y":1.92},
{"g":"D","x":0.176,"y":1.76},{"g":"D","x":0.179,"y":1.63},{"g":"D","x":0.182,"y":2.09},{"g":"D","x":0.185,"y":1.84},{"g":"D","x":0.188,"y":1.7},{"g":"D","x":0.191,"y":1.97},{"g":"D","x":0.194,"y":2.12},{"g":"D","x":0.197,"y":1.74},{"g":"D","x":0.2,"y":1.88},{"g":"D","x":0.007,"y":1.75},
{"g":"D","x":0.015,"y":2.1},{"g":"D","x":0.025,"y":1.69},{"g":"D","x":0.035,"y":1.92},{"g":"D","x":0.045,"y":1.6},{"g":"D","x":0.055,"y":1.82},
{"g":"D","x":0.204,"y":1.65},{"g":"D","x":0.208,"y":2.03},{"g":"D","x":0.212,"y":1.79},{"g":"D","x":0.216,"y":1.62},{"g":"D","x":0.22,"y":2.16},{"g":"D","x":0.224,"y":1.9},{"g":"D","x":0.228,"y":1.71},{"g":"D","x":0.232,"y":1.98},{"g":"D","x":0.236,"y":1.64},{"g":"D","x":0.24,"y":2.08},
{"g":"D","x":0.244,"y":1.83},{"g":"D","x":0.248,"y":1.67},{"g":"D","x":0.252,"y":2.21},{"g":"D","x":0.256,"y":1.94},{"g":"D","x":0.26,"y":1.75},{"g":"D","x":0.264,"y":1.61},{"g":"D","x":0.268,"y":2.05},{"g":"D","x":0.272,"y":1.86},{"g":"D","x":0.276,"y":1.69},{"g":"D","x":0.28,"y":1.99},
{"g":"D","x":0.284,"y":1.73},{"g":"D","x":0.288,"y":2.14},{"g":"D","x":0.292,"y":1.63},{"g":"D","x":0.296,"y":1.89},{"g":"D","x":0.3,"y":1.77},
{"g":"D","x":0.305,"y":2.37},{"g":"D","x":0.305,"y":1.95},{"g":"D","x":0.311,"y":2.4},{"g":"D","x":0.311,"y":2.16},{"g":"D","x":0.311,"y":2.0},{"g":"D","x":0.311,"y":1.78},{"g":"D","x":0.311,"y":1.74},{"g":"D","x":0.311,"y":1.65},{"g":"D","x":0.331,"y":2.16},{"g":"D","x":0.331,"y":2.08},
{"g":"D","x":0.331,"y":1.98},{"g":"D","x":0.331,"y":1.87},{"g":"D","x":0.331,"y":1.71},{"g":"D","x":0.36,"y":2.4},{"g":"D","x":0.36,"y":2.19},{"g":"D","x":0.36,"y":2.14},{"g":"D","x":0.36,"y":2.1},{"g":"D","x":0.36,"y":2.06},{"g":"D","x":0.36,"y":1.92},{"g":"D","x":0.36,"y":1.67},
{"g":"D","x":0.36,"y":1.63},{"g":"D","x":0.387,"y":2.16},{"g":"D","x":0.387,"y":1.84},{"g":"D","x":0.387,"y":1.74},{"g":"D","x":0.41,"y":1.89},{"g":"D","x":0.41,"y":1.83},{"g":"D","x":0.41,"y":1.71},{"g":"D","x":0.56,"y":2.23},{"g":"D","x":0.56,"y":1.62},{"g":"D","x":1.0,"y":2.34},
{"g":"D","x":0.275,"y":2.38},{"g":"D","x":0.29,"y":2.36},{"g":"D","x":0.32,"y":1.9},{"g":"D","x":0.345,"y":1.81},{"g":"D","x":0.34,"y":2.02},
{"g":"E","x":0.003,"y":1.222},{"g":"E","x":0.003,"y":1.19},{"g":"E","x":0.003,"y":1.159},{"g":"E","x":0.003,"y":1.016},{"g":"E","x":0.003,"y":0.921},{"g":"E","x":0.003,"y":0.889},{"g":"E","x":0.003,"y":0.841},{"g":"E","x":0.003,"y":0.778},{"g":"E","x":0.003,"y":0.698},
{"g":"E","x":0.013,"y":1.238},{"g":"E","x":0.013,"y":1.159},{"g":"E","x":0.013,"y":1.095},{"g":"E","x":0.013,"y":0.952},{"g":"E","x":0.013,"y":0.921},{"g":"E","x":0.013,"y":0.746},{"g":"E","x":0.013,"y":0.73},{"g":"E","x":0.013,"y":0.635},{"g":"E","x":0.013,"y":0.619},
{"g":"E","x":0.017,"y":1.127},{"g":"E","x":0.017,"y":1.064},{"g":"E","x":0.017,"y":0.826},{"g":"E","x":0.022,"y":1.174},{"g":"E","x":0.022,"y":1.064},{"g":"E","x":0.022,"y":0.826},{"g":"E","x":0.022,"y":0.629},
{"g":"E","x":0.058,"y":1.222},{"g":"E","x":0.058,"y":1.159},{"g":"E","x":0.058,"y":1.095},{"g":"E","x":0.058,"y":0.952},{"g":"E","x":0.058,"y":0.762},{"g":"E","x":0.058,"y":0.73},{"g":"E","x":0.058,"y":0.835},
{"g":"E","x":0.064,"y":1.207},{"g":"E","x":0.064,"y":1.0},{"g":"E","x":0.064,"y":0.936},{"g":"E","x":0.069,"y":1.143},{"g":"E","x":0.069,"y":0.65},{"g":"E","x":0.076,"y":1.216},{"g":"E","x":0.076,"y":0.984},{"g":"E","x":0.076,"y":0.914},
{"g":"E","x":0.086,"y":1.159},{"g":"E","x":0.086,"y":1.031},{"g":"E","x":0.086,"y":0.698},{"g":"E","x":0.091,"y":1.159},{"g":"E","x":0.091,"y":0.952},{"g":"E","x":0.091,"y":0.683},{"g":"E","x":0.091,"y":0.619},
{"g":"E","x":0.096,"y":1.19},{"g":"E","x":0.096,"y":1.095},{"g":"E","x":0.096,"y":0.793},{"g":"E","x":0.101,"y":1.159},{"g":"E","x":0.101,"y":1.064},{"g":"E","x":0.101,"y":0.841},{"g":"E","x":0.101,"y":0.746},
{"g":"E","x":0.106,"y":1.222},{"g":"E","x":0.106,"y":1.127},{"g":"E","x":0.106,"y":0.857},{"g":"E","x":0.106,"y":0.81},{"g":"E","x":0.106,"y":0.73},{"g":"E","x":0.106,"y":0.65},
{"g":"E","x":0.118,"y":1.174},{"g":"E","x":0.118,"y":1.095},{"g":"E","x":0.118,"y":1.0},{"g":"E","x":0.118,"y":0.936},
{"g":"E","x":0.125,"y":1.216},{"g":"E","x":0.125,"y":1.127},{"g":"E","x":0.125,"y":0.952},{"g":"E","x":0.125,"y":0.793},{"g":"E","x":0.125,"y":0.714},{"g":"E","x":0.125,"y":0.603},
{"g":"E","x":0.145,"y":0.921},{"g":"E","x":0.145,"y":0.826},{"g":"E","x":0.145,"y":0.714},{"g":"E","x":0.151,"y":0.911},{"g":"E","x":0.151,"y":0.816},{"g":"E","x":0.151,"y":0.73},
{"g":"E","x":0.167,"y":1.238},{"g":"E","x":0.167,"y":0.873},{"g":"E","x":0.179,"y":1.111},{"g":"E","x":0.179,"y":1.095},{"g":"E","x":0.179,"y":0.65},
{"g":"E","x":0.195,"y":1.238},{"g":"E","x":0.195,"y":1.0},{"g":"E","x":0.195,"y":0.826},{"g":"E","x":0.195,"y":0.81},{"g":"E","x":0.195,"y":0.65},{"g":"E","x":0.195,"y":0.619},
{"g":"E","x":0.249,"y":1.207},{"g":"E","x":0.249,"y":1.152},{"g":"E","x":0.249,"y":0.736},{"g":"E","x":0.28,"y":1.016},{"g":"E","x":0.29,"y":1.073},{"g":"E","x":0.331,"y":1.064},{"g":"E","x":0.335,"y":1.197},{"g":"E","x":0.335,"y":1.041},
{"g":"E","x":0.416,"y":1.089},{"g":"E","x":0.416,"y":0.959},{"g":"E","x":0.416,"y":0.831},{"g":"E","x":0.416,"y":0.629},{"g":"E","x":0.56,"y":1.329},
{"g":"E","x":0.621,"y":0.952},{"g":"E","x":0.621,"y":0.686},{"g":"E","x":0.621,"y":0.603},{"g":"E","x":0.658,"y":1.01},{"g":"E","x":0.658,"y":0.952},{"g":"E","x":0.658,"y":0.905},{"g":"E","x":0.658,"y":0.648}
]
},
"layer": [
{"data": {"name": "pts"},
 "mark": {"type": "circle", "size": 14, "opacity": 0.5},
 "encoding": {
  "x": {"field": "x", "type": "quantitative", "title": "Anti−pluralist parties in opposition", "scale": {"domain": [-0.0499, 1.0365], "nice": false, "zero": false},
        "axis": {"values": [0, 0.25, 0.5, 0.75, 1], "title": "Anti−pluralist parties in opposition", "labelPadding": 12, "labelLineHeight": 16.5, "titlePadding": 2, "titleX": 452,
                 "labelExpr": "datum.value == 0.25 ? ['0.25', '<− Less Anti−Pluralism'] : datum.value == 0.75 ? ['0.75', 'More Anti−Pluralism −>'] : datum.value == 0.5 ? '0.5' : datum.value == 1 ? '1' : '0'"}},
  "y": {"field": "y", "type": "quantitative", "title": "Academic Freedom Index", "scale": {"domain": [0.41, 5.705], "nice": false, "zero": false},
        "axis": {"values": [1, 2, 3, 4, 5], "title": "Academic Freedom Index", "labelPadding": 12, "labelOffset": -10, "labelLineHeight": 17, "titlePadding": 7,
                 "labelExpr": "datum.value == 5 ? ['Status Group A', 'Fully free'] : datum.value == 4 ? ['Status Group B', 'Mostly free'] : datum.value == 3 ? ['Status Group C', 'Moderately restricted'] : datum.value == 2 ? ['Status Group D', 'Severely restricted'] : ['Status Group E', 'Completely restricted']"}},
  "color": {"field": "g", "type": "nominal", "scale": {"domain": ["A","B","C","D","E"], "range": ["#210660","#736B96","#EBBDB5","#D36D58","#8A3627"]}, "legend": null}
 }},
{"data": {"name": "dens"},
 "mark": {"type": "area", "interpolate": "monotone", "opacity": 1, "strokeWidth": 1},
 "encoding": {
  "x": {"field": "x", "type": "quantitative", "title": "Anti−pluralist parties in opposition"},
  "y": {"field": "top", "type": "quantitative", "title": "Academic Freedom Index"},
  "y2": {"field": "base"},
  "color": {"field": "g", "type": "nominal", "legend": null},
  "stroke": {"field": "g", "type": "nominal", "scale": {"domain": ["A","B","C","D","E"], "range": ["#210660","#736B96","#EBBDB5","#D36D58","#8A3627"]}, "legend": null},
  "detail": {"field": "g"}
 }},
{"data": {"name": "box"},
 "mark": {"type": "rule", "strokeWidth": 1.4},
 "encoding": {
  "x": {"field": "lo", "type": "quantitative", "title": "Anti−pluralist parties in opposition"},
  "x2": {"field": "q1"},
  "y": {"field": "gy", "type": "quantitative", "title": "Academic Freedom Index"},
  "color": {"field": "g", "type": "nominal", "legend": null}
 }},
{"data": {"name": "box"},
 "mark": {"type": "rule", "strokeWidth": 1.4},
 "encoding": {
  "x": {"field": "q3", "type": "quantitative", "title": "Anti−pluralist parties in opposition"},
  "x2": {"field": "hi"},
  "y": {"field": "gy", "type": "quantitative", "title": "Academic Freedom Index"},
  "color": {"field": "g", "type": "nominal", "legend": null}
 }},
{"data": {"name": "box"},
 "mark": {"type": "bar", "orient": "horizontal", "size": 21, "fillOpacity": 0.8, "strokeWidth": 1.3},
 "encoding": {
  "x": {"field": "q1", "type": "quantitative", "title": "Anti−pluralist parties in opposition"},
  "x2": {"field": "q3"},
  "y": {"field": "gy", "type": "quantitative", "title": "Academic Freedom Index"},
  "color": {"field": "g", "type": "nominal", "legend": null},
  "stroke": {"field": "g", "type": "nominal", "legend": null}
 }},
{"data": {"name": "box"},
 "mark": {"type": "tick", "orient": "vertical", "size": 21, "thickness": 2, "opacity": 1},
 "encoding": {
  "x": {"field": "med", "type": "quantitative", "title": "Anti−pluralist parties in opposition"},
  "y": {"field": "gy", "type": "quantitative", "title": "Academic Freedom Index"},
  "color": {"field": "g", "type": "nominal", "legend": null}
 }}
]
}
